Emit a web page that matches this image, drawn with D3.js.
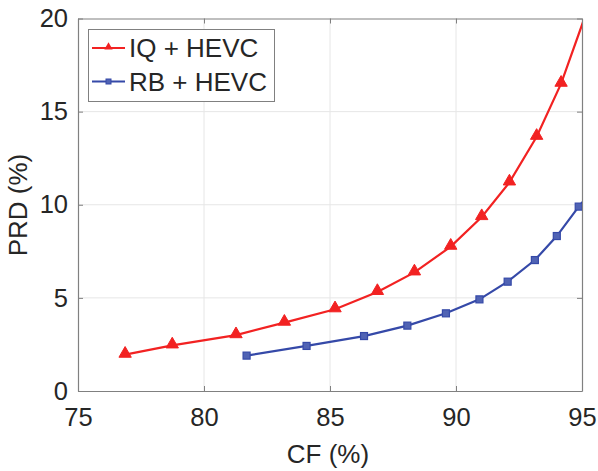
<!DOCTYPE html>
<html>
<head>
<meta charset="utf-8">
<script src="https://cdn.jsdelivr.net/npm/d3@7"></script>
<style>
  body { margin: 0; background: #fff; }
  text { font-family: "Liberation Sans", Arial, sans-serif; fill: #262626; }
</style>
</head>
<body>
<div id="chart"></div>
<script>
// data
var iq_cf  = [76.87, 78.74, 81.27, 83.19, 85.2, 86.88, 88.35, 89.79, 91.02, 92.12, 93.2, 94.17, 95.3];
var iq_prd = [1.95, 2.45, 3.0, 3.67, 4.39, 5.32, 6.37, 7.75, 9.34, 11.2, 13.65, 16.5, 20.8];
var rb_cf  = [81.69, 84.07, 86.35, 88.07, 89.6, 90.93, 92.05, 93.13, 94.0, 94.87, 95.5];
var rb_prd = [1.9, 2.42, 2.95, 3.51, 4.17, 4.92, 5.87, 7.03, 8.32, 9.9, 10.9];
var x_ticks = [75, 80, 85, 90, 95];
var y_ticks = [0, 5, 10, 15, 20];
var series_names = ["IQ + HEVC", "RB + HEVC"];

// svg properties
var chart_width = 598;
var chart_height = 471;
var plot_left = 78, plot_right = 582, plot_top = 18.5, plot_bottom = 391;
var red = "#f22222", blue = "#3549a8";
var font_size = 25.5;

var svg = d3.select("#chart")
            .append("svg")
            .attr("width", chart_width)
            .attr("height", chart_height);

var scale_x = d3.scaleLinear().domain([75, 95]).range([plot_left, plot_right]);
var scale_y = d3.scaleLinear().domain([0, 20]).range([plot_bottom, plot_top]);

// grid
svg.append("g").selectAll("line")
    .data(x_ticks.slice(1, -1))
    .enter().append("line")
    .attr("x1", function(d){ return scale_x(d); })
    .attr("x2", function(d){ return scale_x(d); })
    .attr("y1", plot_top).attr("y2", plot_bottom)
    .attr("stroke", "#e6e6e6").attr("stroke-width", 1);
svg.append("g").selectAll("line")
    .data(y_ticks.slice(1, -1))
    .enter().append("line")
    .attr("y1", function(d){ return scale_y(d); })
    .attr("y2", function(d){ return scale_y(d); })
    .attr("x1", plot_left).attr("x2", plot_right)
    .attr("stroke", "#e6e6e6").attr("stroke-width", 1);

// axes (ticks inward, box on all sides)
function style_axis(g) {
    g.select(".domain").attr("stroke", "#808080").attr("stroke-width", 1.2);
    g.selectAll(".tick line").attr("stroke", "#808080");
    g.selectAll(".tick text").attr("font-size", font_size).attr("fill", "#262626")
        .attr("font-family", "Liberation Sans, Arial, sans-serif");
}
svg.append("g")
    .attr("transform", "translate(0," + plot_bottom + ")")
    .call(d3.axisBottom(scale_x).tickValues(x_ticks).tickSizeInner(-5).tickSizeOuter(0).tickPadding(17))
    .call(style_axis)
    .selectAll(".tick text").attr("dy", "0.71em");
svg.append("g")
    .attr("transform", "translate(" + plot_left + ",0)")
    .call(d3.axisLeft(scale_y).tickValues(y_ticks).tickSizeInner(-5).tickSizeOuter(0).tickPadding(10))
    .call(style_axis);
svg.append("g")
    .attr("transform", "translate(0," + plot_top + ")")
    .call(d3.axisTop(scale_x).tickValues(x_ticks).tickSizeInner(-5).tickSizeOuter(0).tickFormat(""))
    .call(style_axis);
svg.append("g")
    .attr("transform", "translate(" + plot_right + ",0)")
    .call(d3.axisRight(scale_y).tickValues(y_ticks).tickSizeInner(-5).tickSizeOuter(0).tickFormat(""))
    .call(style_axis);

// axis labels
svg.append("text")
    .attr("x", 328).attr("y", 463)
    .attr("text-anchor", "middle").attr("font-size", 26)
    .text("CF (%)");
svg.append("text")
    .attr("transform", "translate(27,205) rotate(-90)")
    .attr("text-anchor", "middle").attr("font-size", 26)
    .text("PRD (%)");

// clip for the curves
svg.append("clipPath").attr("id", "plot_clip")
    .append("rect")
    .attr("x", plot_left).attr("y", plot_top)
    .attr("width", plot_right - plot_left).attr("height", plot_bottom - plot_top);

var plot = svg.append("g").attr("clip-path", "url(#plot_clip)");
var line = d3.line()
    .x(function(d){ return scale_x(d[0]); })
    .y(function(d){ return scale_y(d[1]); });

var iq_data = d3.zip(iq_cf, iq_prd);
var rb_data = d3.zip(rb_cf, rb_prd);

plot.append("path").datum(iq_data)
    .attr("d", line).attr("fill", "none")
    .attr("stroke", red).attr("stroke-width", 2.2);
plot.append("path").datum(rb_data)
    .attr("d", line).attr("fill", "none")
    .attr("stroke", blue).attr("stroke-width", 2.2);

var triangle = d3.symbol().type(d3.symbolTriangle).size(66);
plot.selectAll(".tri")
    .data(iq_data)
    .enter().append("path")
    .attr("class", "tri")
    .attr("d", triangle)
    .attr("transform", function(d){ return "translate(" + scale_x(d[0]) + "," + (scale_y(d[1]) - 1) + ")"; })
    .attr("fill", red).attr("stroke", red).attr("stroke-width", 1);

plot.selectAll(".sq")
    .data(rb_data)
    .enter().append("rect")
    .attr("class", "sq")
    .attr("x", function(d){ return scale_x(d[0]) - 3.5; })
    .attr("y", function(d){ return scale_y(d[1]) - 3.5; })
    .attr("width", 7).attr("height", 7)
    .attr("fill", "#5063b4").attr("stroke", blue).attr("stroke-width", 1.2);

// legend
var legend = svg.append("g");
legend.append("rect")
    .attr("x", 88.5).attr("y", 29.5)
    .attr("width", 186).attr("height", 72)
    .attr("fill", "#fff").attr("stroke", "#808080").attr("stroke-width", 1);
var legend_rows = legend.selectAll(".row")
    .data(series_names)
    .enter().append("g")
    .attr("class", "row")
    .attr("transform", function(d, i){ return "translate(0," + (48 + i * 33.5) + ")"; });
legend_rows.append("line")
    .attr("x1", 92).attr("x2", 125).attr("y1", 0).attr("y2", 0)
    .attr("stroke", function(d, i){ return i == 0 ? red : blue; })
    .attr("stroke-width", 2);
legend_rows.filter(function(d, i){ return i == 0; })
    .append("path")
    .attr("d", d3.symbol().type(d3.symbolTriangle).size(30))
    .attr("transform", "translate(108.5,-1)")
    .attr("fill", red);
legend_rows.filter(function(d, i){ return i == 1; })
    .append("rect")
    .attr("x", 106).attr("y", -2.5).attr("width", 5).attr("height", 5)
    .attr("fill", "#5063b4").attr("stroke", blue);
legend_rows.append("text")
    .attr("x", 129).attr("y", 0).attr("dy", "0.36em")
    .attr("font-size", 26)
    .text(function(d){ return d; });
</script>
</body>
</html>
